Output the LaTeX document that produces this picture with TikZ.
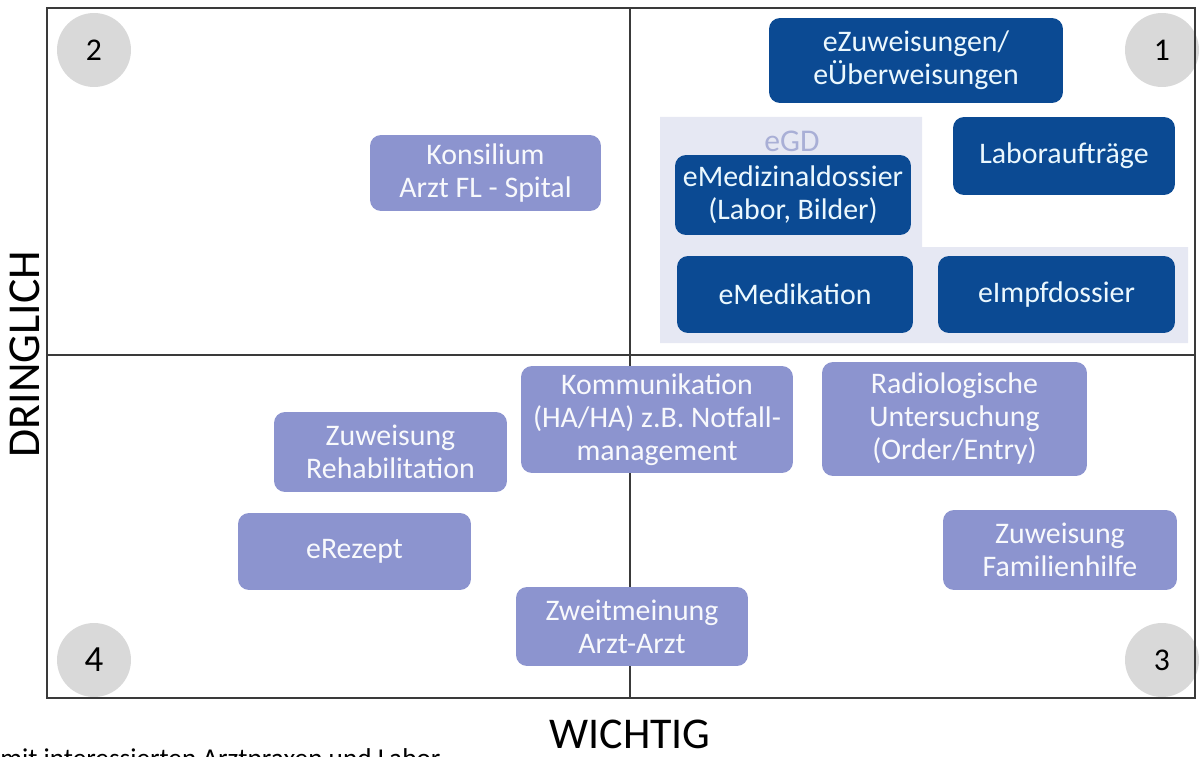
\documentclass[tikz,border=0pt]{standalone}
\usepackage{fontspec}
\setmainfont{Carlito}
\usetikzlibrary{positioning}
\definecolor{egddark}{HTML}{0B4A93}
\definecolor{egdlight}{HTML}{E6E8F3}
\definecolor{egdlabel}{HTML}{A9AFD6}
\definecolor{lavbox}{HTML}{8C94CF}
\definecolor{framegrey}{HTML}{3A3A3A}
\definecolor{quadgrey}{HTML}{D9D9D9}
\tikzstyle{darkbox} = [fill=egddark, text=white!92!cyan, rounded corners=0.22cm,
    align=center, font=\fontsize{17}{18.8}\selectfont, inner sep=2pt]
\tikzstyle{lavenderbox} = [fill=lavbox, text=white!94!lavbox, rounded corners=0.22cm,
    align=center, font=\fontsize{17}{18.8}\selectfont, inner sep=2pt]
\tikzstyle{quadrant} = [circle, fill=quadgrey, minimum size=1.48cm, inner sep=0pt,
    font=\fontsize{18}{20}\selectfont]
\tikzset{boxsize/.style 2 args={minimum width=#1cm, minimum height=#2cm}}

\begin{document}
\begin{tikzpicture}[x=0.02cm, y=-0.02cm]
	\useasboundingbox (0,0) rectangle (1200,757);

	% eGD area
	\fill[egdlight] (660,117) -- (922,117) -- (922,247) -- (1188,247)
		-- (1188,343) -- (660,343) -- cycle;
	\node[text=egdlabel, font=\fontsize{18}{20}\selectfont] (egd) at (792,141) {eGD};

	% quadrant numbers
	\node[quadrant] (q2) at (94,50) {2};
	\node[quadrant] (q1) at (1162,50) {1};
	\node[quadrant, font=\fontsize{21}{24}\selectfont] (q4) at (94,660) {4};
	\node[quadrant] (q3) at (1162,660) {3};

	% frame and axes
	\draw[framegrey, line width=1.1pt] (47,8) rectangle (1195,698);
	\draw[framegrey, line width=0.8pt] (630,8) -- (630,698);
	\draw[framegrey, line width=1.1pt] (47,355) -- (1195,355);

	% quadrant 1
	\node[darkbox, boxsize={5.88}{1.7}] (ezuw) at (916,60.5) {eZuweisungen/\\eÜberweisungen};
	\node[darkbox, boxsize={4.44}{1.56}] (labor) at (1064,156) {Laboraufträge};
	\node[darkbox, boxsize={4.72}{1.6}] (edossier) at (793,195) {eMedizinaldossier\\(Labor, Bilder)};
	\node[darkbox, boxsize={4.72}{1.54}] (emedik) at (795,294.5) {eMedikation};
	\node[darkbox, boxsize={4.74}{1.54}] (eimpf) at (1056.5,294.5) {eImpfdossier};

	% quadrant 2
	\node[lavenderbox, boxsize={4.62}{1.52}] (konsil) at (485.5,173) {Konsilium\\Arzt FL - Spital};

	% quadrants 3 and 4
	\node[lavenderbox, boxsize={5.44}{2.14}] (komm) at (657,419.5) {Kommunikation\\(HA/HA) z.B. Notfall-\\management};
	\node[lavenderbox, boxsize={5.3}{2.28}] (radio) at (954.5,419) {Radiologische\\Untersuchung\\(Order/Entry)};
	\node[lavenderbox, boxsize={4.66}{1.6}] (reha) at (390.5,452) {Zuweisung\\Rehabilitation};
	\node[lavenderbox, boxsize={4.66}{1.54}] (erezept) at (354.5,551.5) {eRezept};
	\node[lavenderbox, boxsize={4.68}{1.6}] (famil) at (1060,550) {Zuweisung\\Familienhilfe};
	\node[lavenderbox, boxsize={4.64}{1.58}] (zweit) at (632,626.5) {Zweitmeinung\\Arzt-Arzt};

	% axis labels
	\node[rotate=90, inner sep=0pt, font=\fontsize{26}{28}\selectfont] (dring) at (25,354) {DRINGLICH};
	\node[inner sep=0pt, font=\fontsize{25}{27}\selectfont] (wichtig) at (630,734) {WICHTIG};
	\node[anchor=base west, inner sep=0pt, font=\fontsize{15.5}{17}\selectfont] (note) at (0,767)
		{mit interessierten Arztpraxen und Labor};
\end{tikzpicture}
\end{document}
